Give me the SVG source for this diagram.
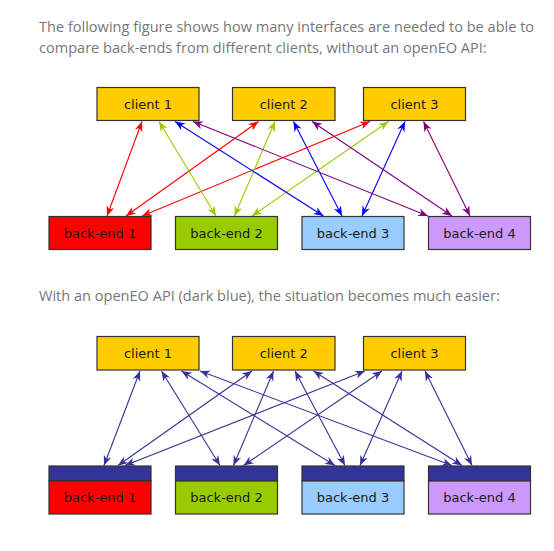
<svg xmlns="http://www.w3.org/2000/svg" width="554" height="551" viewBox="0 0 554 551">
<style>
.para{font-family:"Open Sans","Noto Sans",sans-serif;font-size:14.55px;fill:#777777}
.lbl{font-family:"DejaVu Sans",sans-serif;font-size:13px;fill:#1a1a1a;text-anchor:middle}
.box{stroke:#333333;stroke-width:1.2}
.cl{fill:#ffcc00}
.b1{fill:#ff0000}.b2{fill:#99cc00}.b3{fill:#99ccff}.b4{fill:#cc99ff}
.api{fill:#333399}
line{stroke-width:1.1;fill:none}
.r{stroke:#ff0000;marker-start:url(#mr);marker-end:url(#mr)}
.g{stroke:#99cc00;marker-start:url(#mg);marker-end:url(#mg)}
.bl{stroke:#0000ff;marker-start:url(#mb);marker-end:url(#mb)}
.p{stroke:#800080;marker-start:url(#mp);marker-end:url(#mp)}
.n{stroke:#333399;marker-start:url(#mn);marker-end:url(#mn)}
</style>
<defs>
<marker id="mr" markerUnits="userSpaceOnUse" viewBox="-10 -5 11 10" refX="0" refY="0" markerWidth="11" markerHeight="10" orient="auto-start-reverse"><path d="M0,0 L-10,-4 L-7,0 L-10,4 Z" fill="#ff0000"/></marker>
<marker id="mg" markerUnits="userSpaceOnUse" viewBox="-10 -5 11 10" refX="0" refY="0" markerWidth="11" markerHeight="10" orient="auto-start-reverse"><path d="M0,0 L-10,-4 L-7,0 L-10,4 Z" fill="#99cc00"/></marker>
<marker id="mb" markerUnits="userSpaceOnUse" viewBox="-10 -5 11 10" refX="0" refY="0" markerWidth="11" markerHeight="10" orient="auto-start-reverse"><path d="M0,0 L-10,-4 L-7,0 L-10,4 Z" fill="#0000ff"/></marker>
<marker id="mp" markerUnits="userSpaceOnUse" viewBox="-10 -5 11 10" refX="0" refY="0" markerWidth="11" markerHeight="10" orient="auto-start-reverse"><path d="M0,0 L-10,-4 L-7,0 L-10,4 Z" fill="#800080"/></marker>
<marker id="mn" markerUnits="userSpaceOnUse" viewBox="-10 -5 11 10" refX="0" refY="0" markerWidth="11" markerHeight="10" orient="auto-start-reverse"><path d="M0,0 L-10,-4 L-7,0 L-10,4 Z" fill="#333399"/></marker>
</defs>
<rect width="554" height="551" fill="#ffffff"/>
<text class="para" x="39" y="32">The following figure shows how many interfaces are needed to be able to</text>
<text class="para" x="39" y="53">compare back-ends from different clients, without an openEO API:</text>
<text class="para" x="39" y="301">With an openEO API (dark blue), the situation becomes much easier:</text>

<g id="connectors-top">
<line class="r" x1="142" y1="121.5" x2="107" y2="216"/>
<line class="r" x1="258.5" y1="121.5" x2="126" y2="216"/>
<line class="r" x1="370" y1="121.5" x2="142" y2="216"/>
<line class="g" x1="159" y1="121.5" x2="216" y2="216"/>
<line class="g" x1="275" y1="121.5" x2="234.5" y2="216"/>
<line class="g" x1="388.5" y1="121.5" x2="252" y2="216"/>
<line class="bl" x1="175" y1="121.5" x2="323.5" y2="216"/>
<line class="bl" x1="293.5" y1="121.5" x2="342" y2="216"/>
<line class="bl" x1="405" y1="121.5" x2="362" y2="216"/>
<line class="p" x1="193" y1="121.5" x2="428" y2="216"/>
<line class="p" x1="312" y1="121.5" x2="452" y2="216"/>
<line class="p" x1="423.5" y1="121.5" x2="470" y2="216"/>
</g>
<g id="connectors-bottom">
<line class="n" x1="140" y1="371" x2="104" y2="465.5"/>
<line class="n" x1="161.5" y1="371" x2="220" y2="465.5"/>
<line class="n" x1="181.5" y1="371" x2="335" y2="465.5"/>
<line class="n" x1="200" y1="371" x2="452" y2="465.5"/>
<line class="n" x1="252" y1="371" x2="118" y2="465.5"/>
<line class="n" x1="273.5" y1="371" x2="233.5" y2="465.5"/>
<line class="n" x1="295" y1="371" x2="345" y2="465.5"/>
<line class="n" x1="313.5" y1="371" x2="462" y2="465.5"/>
<line class="n" x1="365" y1="371" x2="125" y2="465.5"/>
<line class="n" x1="382" y1="371" x2="243.5" y2="465.5"/>
<line class="n" x1="402" y1="371" x2="360" y2="465.5"/>
<line class="n" x1="425" y1="371" x2="472" y2="465.5"/>
</g>

<g id="top-client-1"><rect class="box cl" x="97" y="87.5" width="102" height="33"/><text class="lbl" x="148" y="108.5">client 1</text></g>
<g id="top-client-2"><rect class="box cl" x="232.5" y="87.5" width="102.5" height="33"/><text class="lbl" x="283.75" y="108.5">client 2</text></g>
<g id="top-client-3"><rect class="box cl" x="363.5" y="87.5" width="102" height="33"/><text class="lbl" x="414.5" y="108.5">client 3</text></g>
<g id="top-backend-1"><rect class="box b1" x="49" y="216.5" width="102" height="33"/><text class="lbl" x="100" y="238">back-end 1</text></g>
<g id="top-backend-2"><rect class="box b2" x="175.5" y="216.5" width="102" height="33"/><text class="lbl" x="226.5" y="238">back-end 2</text></g>
<g id="top-backend-3"><rect class="box b3" x="302" y="216.5" width="102" height="33"/><text class="lbl" x="353" y="238">back-end 3</text></g>
<g id="top-backend-4"><rect class="box b4" x="428.5" y="216.5" width="102" height="33"/><text class="lbl" x="479.5" y="238">back-end 4</text></g>

<g id="bottom-client-1"><rect class="box cl" x="97" y="336.5" width="102" height="33.5"/><text class="lbl" x="148" y="357.5">client 1</text></g>
<g id="bottom-client-2"><rect class="box cl" x="232.5" y="336.5" width="102.5" height="33.5"/><text class="lbl" x="283.75" y="357.5">client 2</text></g>
<g id="bottom-client-3"><rect class="box cl" x="363.5" y="336.5" width="102" height="33.5"/><text class="lbl" x="414.5" y="357.5">client 3</text></g>
<g id="bottom-backend-1"><rect class="box api" x="49" y="466" width="102" height="15"/><rect class="box b1" x="49" y="481" width="102" height="33"/><text class="lbl" x="100" y="502">back-end 1</text></g>
<g id="bottom-backend-2"><rect class="box api" x="175.5" y="466" width="102" height="15"/><rect class="box b2" x="175.5" y="481" width="102" height="33"/><text class="lbl" x="226.5" y="502">back-end 2</text></g>
<g id="bottom-backend-3"><rect class="box api" x="302" y="466" width="102" height="15"/><rect class="box b3" x="302" y="481" width="102" height="33"/><text class="lbl" x="353" y="502">back-end 3</text></g>
<g id="bottom-backend-4"><rect class="box api" x="428.5" y="466" width="102" height="15"/><rect class="box b4" x="428.5" y="481" width="102" height="33"/><text class="lbl" x="479.5" y="502">back-end 4</text></g>
</svg>
